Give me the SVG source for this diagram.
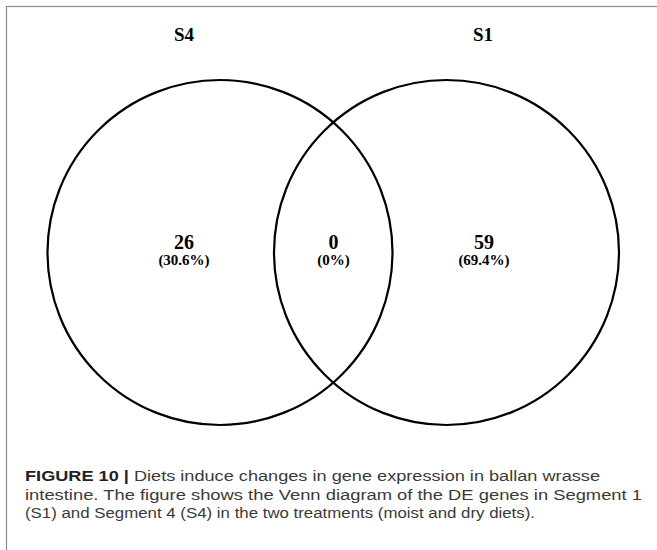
<svg xmlns="http://www.w3.org/2000/svg" width="657" height="550" viewBox="0 0 657 550">
<style>
.frame{fill:none;stroke:#8a8a8a;stroke-width:1.2}
.set{fill:none;stroke:#000;stroke-width:2.2}
.title{font-family:"Liberation Serif",serif;font-weight:bold;font-size:19px;fill:#000;text-anchor:middle}
.num{font-family:"Liberation Serif",serif;font-weight:bold;font-size:20px;fill:#000;text-anchor:middle}
.pct{font-family:"Liberation Serif",serif;font-weight:bold;font-size:15px;fill:#000;text-anchor:middle}
.cap{font-family:"Liberation Sans",Arial,sans-serif;font-size:15.5px;fill:#3a3a3a}
.capb{font-weight:bold;fill:#222}
</style>
<rect class="frame" x="6.5" y="6.5" width="700" height="600"/>
<g id="set-S4">
<circle class="set" cx="220" cy="252.5" r="172.5"/>
<text class="title" x="184" y="41">S4</text>
</g>
<g id="set-S1">
<circle class="set" cx="446.5" cy="252.5" r="172.5"/>
<text class="title" x="483" y="41">S1</text>
</g>
<g id="region-S4-only">
<text class="num" x="184" y="249">26</text>
<text class="pct" x="184" y="264.5">(30.6%)</text>
</g>
<g id="region-overlap">
<text class="num" x="333.5" y="249">0</text>
<text class="pct" x="333.5" y="264.5">(0%)</text>
</g>
<g id="region-S1-only">
<text class="num" x="484" y="249">59</text>
<text class="pct" x="484" y="264.5">(69.4%)</text>
</g>
<g id="connectors"/>
<g id="caption">
<text class="cap" x="25" y="481" textLength="575" lengthAdjust="spacingAndGlyphs"><tspan class="capb">FIGURE 10 |</tspan> Diets induce changes in gene expression in ballan wrasse</text>
<text class="cap" x="25" y="499.5" textLength="617" lengthAdjust="spacingAndGlyphs">intestine. The figure shows the Venn diagram of the DE genes in Segment 1</text>
<text class="cap" x="25" y="518" textLength="510" lengthAdjust="spacingAndGlyphs">(S1) and Segment 4 (S4) in the two treatments (moist and dry diets).</text>
</g>
</svg>
